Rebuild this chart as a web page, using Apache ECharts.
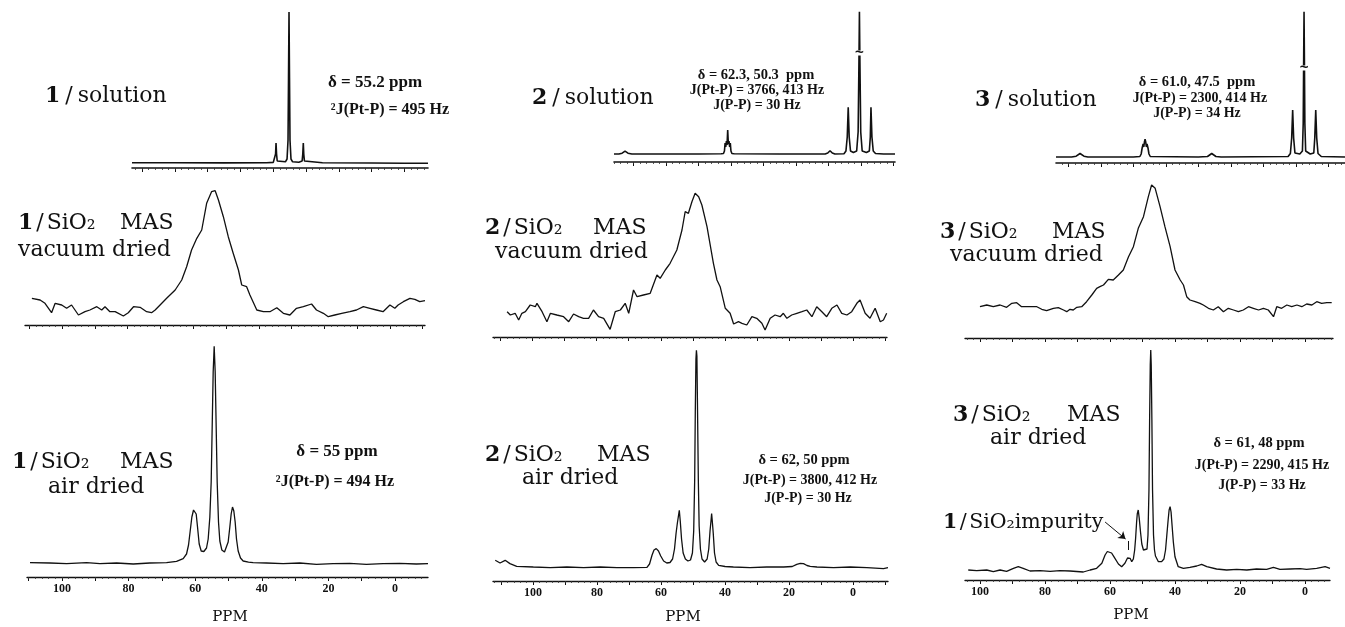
<!DOCTYPE html>
<html><head><meta charset="utf-8">
<script src="https://cdn.jsdelivr.net/npm/echarts@6/dist/echarts.min.js"></script>
<style>html,body{margin:0;padding:0;background:#fff}#c{width:1345px;height:627px}</style>
</head><body><div id="c"></div>
<script>
// ---- data: [ppm, intensity (a.u.)] ----
const sol1 = [[103.1,5.3],[90,5.2],[75,5.1],[62,5.2],[60.0,5.6],[59.5,7],[59.3,14],[59.16,25],[59.0,14],[58.8,7],[58.2,5.8],[56.3,6.2],[55.8,9],[55.5,28],[55.35,90],[55.2,156],[55.05,90],[54.9,28],[54.6,9],[54.1,6.2],[52.2,5.8],[51.2,7],[51.0,14],[50.84,25],[50.7,14],[50.5,7],[50.0,5.6],[45,5.2],[30,5],[20,4.8],[12.8,4.7]];
const sol2 = [[126,8],[124.5,8],[123.5,8.8],[122.6,10.8],[121.7,8.8],[120.5,8],[100,8],[93,8.2],[92.3,8.5],[92.0,11],[91.8,19],[91.6,15],[91.4,21],[91.2,17],[91.0,32],[90.8,18],[90.6,21],[90.4,15],[90.2,19],[90.0,11],[89.7,8.5],[89,8.2],[75,8],[61,8],[60.2,9],[59.5,11.3],[58.8,9],[58,8],[55.2,8.3],[54.6,11],[54.2,25],[53.9,54.7],[53.6,25],[53.2,11],[52.3,9.5],[51.3,11],[50.85,30],[50.6,100],[50.45,150.3],[50.3,100],[50.05,30],[49.6,11],[48.3,9.5],[47.4,11],[47.1,25],[46.9,54.7],[46.6,25],[46.2,11],[45.5,8.5],[43,8],[39.5,8]];
const sol3 = [[123.8,6],[119,6],[117.6,6.8],[116.4,9.5],[115.2,6.8],[114,6],[100,6],[98,6.5],[97.6,9],[97.3,15],[97.0,19],[96.8,16],[96.6,21],[96.4,23.7],[96.2,21],[96.0,16],[95.8,19],[95.5,15],[95.2,9],[94.8,6.5],[80,6],[77.2,6.5],[75.9,9.5],[74.6,6.5],[73,6],[52.4,6.5],[51.7,9.5],[51.3,25],[51.0,53],[50.7,25],[50.3,10],[48.8,9],[48.0,12],[47.75,40],[47.6,110],[47.5,151.3],[47.4,110],[47.25,40],[47.0,12],[45.6,9],[44.5,10],[44.2,25],[43.9,53],[43.6,25],[43.2,9.5],[42.2,6.5],[34.9,6]];
const vac1 = [[109.2,26.7],[106.7,25],[105.2,21.7],[103.2,12.3],[102.1,21.7],[100.1,20],[98.6,16.7],[97.1,20],[95.0,10],[93.0,13.3],[91.5,15],[89.4,18.3],[87.9,15],[86.9,18.3],[85.4,13.3],[83.8,13.3],[81.3,9],[79.8,12.3],[78.2,18.3],[76.2,17.7],[74.2,13.3],[72.7,12.3],[71.6,15],[70.1,20],[68.1,26.7],[65.5,35],[63.5,45],[62.0,58.3],[60.5,75],[58.9,86.7],[57.4,95],[55.9,121.7],[54.4,133.3],[53.3,134.3],[52.3,125],[50.8,108.3],[49.3,88.3],[47.8,71.7],[46.2,55],[45.2,40],[43.7,38.3],[42.7,30],[40.6,15],[38.6,13.3],[36.6,13.3],[34.5,17.3],[32.5,11.7],[30.5,10],[28.5,16.7],[26.4,18.3],[23.9,21],[22.4,15],[20.3,11.7],[18.8,8.3],[16.8,10],[14.7,11.7],[12.2,13.3],[10.2,15],[8.1,18.3],[6.1,16.7],[4.1,15],[2.1,13.3],[0.0,20],[-1.5,16.7],[-2.5,20],[-4.1,23.3],[-6.1,26.7],[-7.6,25.7],[-9.1,23.3],[-10.7,24.3]];
const vac2 = [[107.9,25.3],[106.9,22],[105.4,23.7],[104.3,17],[103.3,23.7],[102.2,25.3],[100.7,32],[99.1,30.3],[98.6,33.7],[97.0,25.3],[95.5,15.3],[94.4,23.7],[92.4,22],[90.3,20.3],[88.7,15.3],[87.2,23],[85.6,20.3],[84.1,18.7],[82.5,18.7],[81.0,27],[79.4,20.3],[77.8,18.7],[75.8,7.7],[74.2,25.3],[72.6,27],[71.1,33.7],[70.0,23.7],[68.5,47],[67.4,40.3],[65.4,42],[63.3,43.7],[61.2,62],[60.2,58.7],[58.6,67],[57.1,73.7],[55.0,87],[53.4,107],[52.4,125.3],[51.4,123.7],[50.3,135.3],[49.3,143.7],[48.2,140.3],[47.2,132],[45.6,110.3],[43.6,73.7],[42.5,57],[41.5,50.3],[39.9,28.7],[38.4,23.7],[37.3,13],[35.8,15.3],[34.7,13.7],[33.2,12],[31.6,20.3],[30.1,18.7],[28.5,13.7],[27.5,7],[25.9,18.7],[24.4,22],[22.8,20.3],[21.8,23.7],[20.7,18.7],[19.2,22],[17.6,23.7],[16.0,25.3],[14.5,27],[12.9,20.3],[11.4,30.3],[9.8,25.3],[8.3,20.3],[6.7,28.7],[5.1,32],[3.6,23.7],[2.0,22],[0.5,25.3],[-1.1,33.7],[-2.1,37],[-3.7,23.7],[-5.2,18.7],[-6.8,28.7],[-8.4,15.3],[-9.4,17],[-10.4,23.7]];
const vac3 = [[100.0,31.3],[97.9,33],[95.9,31.3],[93.8,33],[91.8,30.7],[90.2,34.7],[88.7,35.3],[87.2,31.3],[85.1,31.3],[82.5,31.3],[81.0,28.7],[79.5,27.3],[77.4,29.7],[75.9,30.3],[74.3,28],[73.3,26.3],[72.3,28.7],[71.3,28],[70.2,30.7],[68.7,31.3],[67.2,36.3],[65.6,43],[64.1,49.7],[63.1,51.3],[62.0,53],[60.5,58.7],[59.0,58],[57.4,63],[55.9,68],[54.3,81.3],[52.8,91.3],[51.3,109.7],[49.7,121.3],[48.2,141.3],[47.2,153],[46.1,149.7],[44.6,131.3],[43.1,111.3],[41.5,91.3],[40.0,68],[38.4,58],[37.4,53],[36.4,41.3],[35.4,38],[33.8,36.3],[32.3,34.7],[31.3,33],[29.7,29.7],[28.2,28],[26.7,31.3],[25.1,26.3],[23.6,29.7],[22.0,28],[20.5,26.3],[19.0,28],[17.4,31.3],[15.9,29.7],[14.3,28],[12.8,29.7],[11.3,28],[9.7,21.3],[8.7,31.3],[7.2,29.7],[5.6,33],[4.1,31.3],[2.5,33],[1.0,31.3],[-0.5,34],[-2.1,33],[-3.6,36.3],[-5.1,34.7],[-6.7,35.3],[-8.2,35.3]];
const air1 = [[109.6,14.4],[103.6,14],[98.6,13.4],[92.6,14.4],[88.6,13.4],[83.6,14],[78.6,13],[73.6,14],[68.6,14.4],[65.6,15.7],[63.6,18.4],[62.6,23],[62.0,32],[61.5,46],[61.0,60],[60.5,67],[60.1,68.4],[59.7,63],[59.3,50],[58.8,33],[58.2,26],[57.4,25.5],[56.6,29],[56.1,38],[55.6,60],[55.2,95],[54.9,150],[54.6,205],[54.3,230.7],[54.0,205],[53.7,150],[53.4,95],[53.0,55],[52.6,36],[52.0,27],[51.2,25],[50.6,27],[50.1,35],[49.6,50],[49.2,63],[48.8,70],[48.4,66],[48.0,55],[47.6,38],[47.1,26],[46.4,19],[45.6,16],[44,14.8],[42.6,14.4],[38.6,14],[33.6,13.4],[28.6,14],[23.6,12.7],[18.6,13.4],[13.6,13.7],[8.6,12.7],[3.6,13.4],[-1.4,13.7],[-6.4,13],[-9.9,13.4]];
const air2 = [[111.8,20.7],[110.3,18],[108.7,20.7],[107.2,17.4],[105.1,14.7],[99.9,14],[94.6,13.4],[89.4,14],[84.2,13.4],[79.0,14],[73.8,13.4],[68.6,13.4],[64.4,13.6],[63.6,17],[62.8,26],[62.2,31],[61.5,32.4],[60.8,30],[60.1,25],[59.2,20],[58.2,18],[57.2,18.5],[56.4,22],[55.8,32],[55.3,48],[54.9,58],[54.6,60],[54.3,70.7],[54.0,60],[53.6,42],[53.1,28],[52.4,22],[51.6,20],[50.8,21],[50.2,28],[49.8,50],[49.5,100],[49.3,170],[49.1,222],[48.95,230.7],[48.8,225],[48.6,170],[48.35,100],[48.1,55],[47.7,32],[47.2,22],[46.4,19],[45.6,22],[45.1,32],[44.7,50],[44.4,60],[44.2,67.4],[44.0,60],[43.7,48],[43.3,28],[42.8,19],[42.0,15.7],[40,14.5],[37.4,14],[32.2,13.4],[27.0,14],[21.7,14],[19,14.5],[17.6,16.7],[16.5,17.6],[15.5,17.4],[14.4,15.5],[13.4,14.7],[11.3,14],[6.1,13.4],[0.9,14],[-4.3,13.4],[-9.5,12.4],[-10.9,13.4]];
const air3 = [[103.6,10],[101.0,9.3],[97.9,10],[95.9,8.3],[93.8,10],[91.8,8.7],[89.7,11.7],[88.2,13.3],[86.7,11.7],[84.6,9],[81.5,9.3],[78.4,8.7],[75.4,9.3],[72.3,9],[68.2,8],[66.1,10],[64.1,11.7],[62.5,16.7],[61.5,25],[60.8,28.5],[60.2,28],[59.5,27],[58.8,23.3],[57.4,16],[56.4,13.3],[55.4,16.7],[54.6,22],[54.3,23.3],[53.8,21.7],[53.3,18.3],[52.8,21],[52.4,30],[52.1,42],[51.8,58],[51.6,66],[51.3,70],[51.0,62],[50.6,48],[50.2,36],[49.7,30],[49.1,28.3],[48.6,31],[48.3,45],[48.0,90],[47.8,160],[47.6,215],[47.45,230],[47.3,215],[47.1,160],[46.9,90],[46.6,45],[46.3,30],[46.0,24],[45.1,18.3],[44.1,18.3],[43.4,21],[42.9,30],[42.5,45],[42.1,60],[41.8,70],[41.5,73.3],[41.2,68],[40.9,55],[40.5,38],[40.0,23.3],[39.0,13.3],[37.4,11.7],[35.4,12.7],[33.3,14],[31.8,15.7],[30.2,13.3],[27.2,11],[24.1,10],[21.0,10.7],[17.9,10],[14.9,11],[11.8,10.7],[9.7,12.7],[7.7,10.7],[4.6,11],[1.5,11.3],[-0.5,10.7],[-3.6,11.7],[-6.2,13.3],[-7.7,11.7]];
const ppmLabels = [0, 20, 40, 60, 80, 100];
const majorTicks = [-10, 0, 10, 20, 30, 40, 50, 60, 70, 80, 90, 100, 110, 120];

// ---- layout ----
const panels = [
  {d: sol1, x0: 132, x1: 428, yb: 168, h: 160, min: 12.8, max: 103.1, row: 0},
  {d: sol2, x0: 614, x1: 895, yb: 162, h: 154, min: 39.5, max: 126.0, row: 0},
  {d: sol3, x0: 1056, x1: 1345, yb: 163, h: 155, min: 34.9, max: 123.8, row: 0},
  {d: vac1, x0: 25, x1: 425, yb: 325, h: 140, min: -10.7, max: 111.3, row: 1},
  {d: vac2, x0: 493, x1: 887, yb: 337, h: 150, min: -10.5, max: 112.3, row: 1},
  {d: vac3, x0: 965, x1: 1333, yb: 338, h: 160, min: -8.6, max: 104.6, row: 1},
  {d: air1, x0: 27, x1: 428, yb: 577, h: 240, min: -9.9, max: 110.5, row: 2},
  {d: air2, x0: 493, x1: 888, yb: 581, h: 240, min: -10.9, max: 112.5, row: 2},
  {d: air3, x0: 965, x1: 1330, yb: 580, h: 240, min: -7.7, max: 104.6, row: 2}
];
const INK = '#111';
const grid = [], xAxis = [], yAxis = [], series = [];
panels.forEach((p, i) => {
  grid.push({left: p.x0, top: p.yb - p.h, width: p.x1 - p.x0, height: p.h, containLabel: false});
  const inRange = v => v >= p.min && v <= p.max;
  const minor = [];
  for (let v = Math.ceil(p.min / 2) * 2; v <= p.max; v += 2) minor.push(v);
  xAxis.push({
    type: 'value', gridIndex: i, inverse: true, min: p.min, max: p.max, position: 'bottom',
    axisLine: {show: true, onZero: false, lineStyle: {color: INK, width: p.row === 0 ? 1.6 : 1.3}},
    axisTick: {show: true, customValues: majorTicks.filter(inRange), length: 4, lineStyle: {color: INK, width: 1}},
    axisLabel: {show: p.row === 2, customValues: ppmLabels.filter(inRange), margin: 6,
      color: INK, fontFamily: 'Liberation Serif', fontWeight: 'bold', fontSize: 12},
    splitLine: {show: false}
  });
  xAxis.push({
    type: 'value', gridIndex: i, inverse: true, min: p.min, max: p.max, position: 'bottom',
    axisLine: {show: false},
    axisTick: {show: true, customValues: minor, length: 2, lineStyle: {color: '#333', width: 0.8}},
    axisLabel: {show: false}, splitLine: {show: false}
  });
  yAxis.push({type: 'value', gridIndex: i, min: 0, max: p.h, show: false});
  series.push({
    type: 'line', xAxisIndex: 2 * i, yAxisIndex: i, data: p.d, showSymbol: false, symbol: 'none',
    lineStyle: {color: INK, width: p.row === 0 ? 1.6 : 1.3}, z: 3, silent: true
  });
});
// break marks on truncated solution peaks
[[1, 50.45, 109], [2, 47.5, 95]].forEach(([si, x, y]) => {
  series[si].markPoint = {symbol: 'rect', symbolSize: [6, 5], itemStyle: {color: '#fff'}, silent: true,
    label: {show: true, position: 'inside', formatter: '~', fontSize: 15, color: INK, fontWeight: 'bold'},
    data: [{coord: [x, y]}]};
});
// impurity arrow
series[8].markLine = {silent: true, symbol: ['none', 'arrow'], symbolSize: 7, label: {show: false},
  lineStyle: {color: INK, width: 1, type: 'solid'},
  data: [
    [{coord: [61.5, 58]}, {coord: [55.2, 41]}],
    [{coord: [54.4, 30], symbol: 'none'}, {coord: [54.4, 39], symbol: 'none'}]
  ]};

// ---- text ----
const BIG = 'DejaVu Serif';
function big(text, x, y, pad, size) {
  const p = pad == null ? 3 : pad;
  const fs = size || 22;
  return {type: 'text', x: x, y: y, z: 10, style: {text: text, fill: INK, fontFamily: BIG, fontSize: fs,
    align: 'left', verticalAlign: 'middle',
    rich: {
      b: {fontFamily: BIG, fontSize: fs, fontWeight: 'bold', fill: INK},
      s: {fontFamily: BIG, fontSize: fs, fill: INK, padding: [0, p, 0, p]},
      n: {fontFamily: BIG, fontSize: fs, fill: INK}
    }}};
}
function note(text, x, y, size) {
  return {type: 'text', x: x, y: y, z: 10, style: {text: text, fill: INK, fontFamily: 'Liberation Serif',
    fontWeight: 'bold', fontSize: size, align: 'center', verticalAlign: 'middle'}};
}
function ppmName(x, y) {
  return {type: 'text', x: x, y: y, z: 10, style: {text: 'PPM', fill: INK, fontFamily: BIG, fontSize: 15,
    align: 'center', verticalAlign: 'middle'}};
}
const graphic = [
  big('{b|1}{s|/}{n|solution}', 45, 96, 5), big('{b|2}{s|/}{n|solution}', 532, 98, 5), big('{b|3}{s|/}{n|solution}', 975, 100, 5),
  big('{b|1}{s|/}{n|SiO₂}', 18, 223), big('MAS', 120, 223), big('vacuum dried', 18, 250),
  big('{b|2}{s|/}{n|SiO₂}', 485, 228), big('MAS', 593, 228), big('vacuum dried', 495, 252),
  big('{b|3}{s|/}{n|SiO₂}', 940, 232), big('MAS', 1052, 232), big('vacuum dried', 950, 255),
  big('{b|1}{s|/}{n|SiO₂}', 12, 462), big('MAS', 120, 462), big('air dried', 48, 487),
  big('{b|2}{s|/}{n|SiO₂}', 485, 455), big('MAS', 597, 455), big('air dried', 522, 478),
  big('{b|3}{s|/}{n|SiO₂}', 953, 415), big('MAS', 1067, 415), big('air dried', 990, 438),
  big('{b|1}{s|/}{n|SiO₂impurity}', 943, 523, 2.5, 20.5),
  note('δ = 55.2 ppm', 375, 83, 17), note('²J(Pt-P) = 495 Hz', 390, 110, 16),
  note('δ = 62.3, 50.3  ppm', 756, 75, 14.5), note('J(Pt-P) = 3766, 413 Hz', 757, 90, 14), note('J(P-P) = 30 Hz', 757, 105, 14),
  note('δ = 61.0, 47.5  ppm', 1197, 82, 14.5), note('J(Pt-P) = 2300, 414 Hz', 1200, 98, 14), note('J(P-P) = 34 Hz', 1197, 113, 14),
  note('δ = 55 ppm', 337, 452, 17), note('²J(Pt-P) = 494 Hz', 335, 482, 16),
  note('δ = 62, 50 ppm', 804, 460, 14.5), note('J(Pt-P) = 3800, 412 Hz', 810, 480, 14), note('J(P-P) = 30 Hz', 808, 498, 14),
  note('δ = 61, 48 ppm', 1259, 443, 14.5), note('J(Pt-P) = 2290, 415 Hz', 1262, 465, 14), note('J(P-P) = 33 Hz', 1262, 485, 14),
  ppmName(230, 617), ppmName(683, 617), ppmName(1131, 615)
];

const chart = echarts.init(document.getElementById('c'), null, {renderer: 'canvas'});
chart.setOption({animation: false, backgroundColor: '#fff', grid, xAxis, yAxis, series, graphic});
</script></body></html>
